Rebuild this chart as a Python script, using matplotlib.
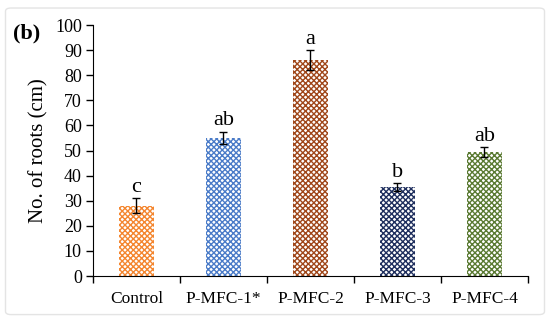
import matplotlib.pyplot as plt
from matplotlib.patches import FancyBboxPatch

plt.rcParams['font.family'] = ['Liberation Serif', 'DejaVu Serif']
plt.rcParams['hatch.linewidth'] = 1.0

groups = ['Control', 'P-MFC-1*', 'P-MFC-2', 'P-MFC-3', 'P-MFC-4']
roots = [28, 55, 86, 35.5, 49.5]
errors = [3, 2.5, 4, 1.5, 2]
letters = ['c', 'ab', 'a', 'b', 'ab']
colors = ['#F4862F', '#4A7BC8', '#A0471A', '#1F2F5E', '#5A7A32']

fig = plt.figure(figsize=(5.5, 3.21), dpi=100)
ax = fig.add_axes([0.169, 0.140, 0.791, 0.782])

x = range(len(groups))
for i in x:
    ax.bar(i, roots[i], width=0.4, color='white', edgecolor=colors[i],
           hatch='xxxxxx', linewidth=0)
ax.errorbar(x, roots, yerr=errors, fmt='none', ecolor='black',
            elinewidth=1, capsize=3, capthick=1)
for i in x:
    ax.text(i, roots[i] + errors[i] + 0.5, letters[i], ha='center', va='bottom',
            fontsize=16)

ax.set_xlim(-0.5, len(groups) - 0.5)
ax.set_ylim(0, 100)
ax.set_yticks(range(0, 101, 10))
ax.set_xticks(list(x))
ax.set_xticklabels(groups, fontsize=12.5)
ax.set_xticks([i - 0.5 for i in range(len(groups) + 1)], minor=True)
ax.tick_params(axis='x', which='major', length=0, pad=11)
ax.tick_params(axis='x', which='minor', length=5, width=1, direction='out')
ax.tick_params(axis='y', labelsize=13, length=5, width=1, direction='out', pad=3)
ax.spines['top'].set_visible(False)
ax.spines['right'].set_visible(False)
ax.set_ylabel('No. of roots (cm)', fontsize=15, labelpad=5)

fig.text(0.024, 0.897, '(b)', fontsize=16, fontweight='bold', ha='left', va='center')

border = FancyBboxPatch((0.01, 0.02), 0.98, 0.955, boxstyle='round,pad=0,rounding_size=0.01',
                        transform=fig.transFigure, facecolor='none', edgecolor='#E4E4E4',
                        linewidth=1)
fig.patches.append(border)

fig.savefig('out.png', dpi=100)
